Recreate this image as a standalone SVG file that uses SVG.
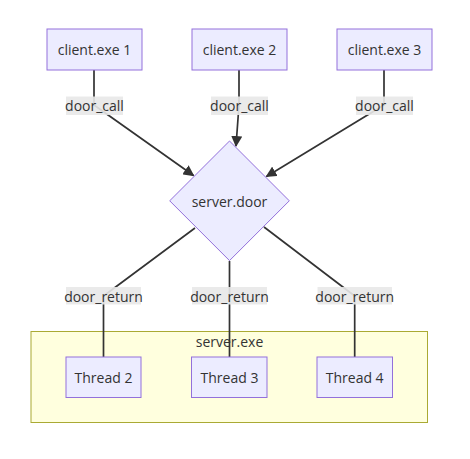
<svg xmlns="http://www.w3.org/2000/svg" width="470" height="459" viewBox="0 0 470 459">
<style>
text{font-family:"Open Sans","Noto Sans","DejaVu Sans",sans-serif;font-size:14px;fill:#333;text-anchor:middle;dominant-baseline:central}
.node{fill:#ECECFF;stroke:#9370DB;stroke-width:1}
.edge{fill:none;stroke:#333;stroke-width:1.7}
.lbl{fill:#e8e8e8;opacity:0.9}
.cluster{fill:#ffffde;stroke:#aaaa33;stroke-width:1}
</style>
<defs>
<marker id="arrow" viewBox="0 0 10 10" refX="9" refY="5" markerUnits="userSpaceOnUse" markerWidth="11" markerHeight="11" orient="auto">
<path d="M0,0 L10,5 L0,10 z" fill="#333"/>
</marker>
</defs>
<g id="cluster-server-exe">
<rect class="cluster" x="31" y="331.5" width="396.5" height="91"/>
<text x="229.5" y="341">server.exe</text>
</g>
<g id="edges">
<path class="edge" d="M94,70 L94,105 L193.5,175.5" marker-end="url(#arrow)"/>
<path class="edge" d="M239,70 L239,105 L236,146" marker-end="url(#arrow)"/>
<path class="edge" d="M384,70 L384,105 L266.5,176.5" marker-end="url(#arrow)"/>
<path class="edge" d="M195,228 L103.5,296 L103.5,357"/>
<path class="edge" d="M229.5,261 L229.5,357"/>
<path class="edge" d="M264,227 L354.7,296 L354.7,357"/>
</g>
<g id="edge-labels">
<g><rect class="lbl" x="66" y="96.5" width="57" height="18.5"/><text x="94.5" y="105.5">door_call</text></g>
<g><rect class="lbl" x="211" y="96.5" width="57" height="18.5"/><text x="239.5" y="105.5">door_call</text></g>
<g><rect class="lbl" x="356" y="96.5" width="57" height="18.5"/><text x="384.5" y="105.5">door_call</text></g>
<g><rect class="lbl" x="66" y="287" width="75" height="17.5"/><text x="103.5" y="296">door_return</text></g>
<g><rect class="lbl" x="192" y="287" width="75" height="17.5"/><text x="229.5" y="296">door_return</text></g>
<g><rect class="lbl" x="317.5" y="287" width="74.5" height="17.5"/><text x="354.7" y="296">door_return</text></g>
</g>
<g id="client1"><rect class="node" x="47" y="29" width="95" height="41"/><text x="94.5" y="49.5">client.exe 1</text></g>
<g id="client2"><rect class="node" x="192" y="29" width="95" height="41"/><text x="239.5" y="49.5">client.exe 2</text></g>
<g id="client3"><rect class="node" x="337" y="29" width="95" height="41"/><text x="384.5" y="49.5">client.exe 3</text></g>
<g id="server-door"><polygon class="node" points="229.5,141 289.3,200.8 229.5,260.6 169.7,200.8"/><text x="229.5" y="201">server.door</text></g>
<g id="thread2"><rect class="node" x="66" y="357" width="75" height="40.5"/><text x="103.5" y="377">Thread 2</text></g>
<g id="thread3"><rect class="node" x="191.5" y="357" width="75.5" height="40.5"/><text x="229.5" y="377">Thread 3</text></g>
<g id="thread4"><rect class="node" x="317" y="357" width="75.5" height="40.5"/><text x="354.7" y="377">Thread 4</text></g>
</svg>
